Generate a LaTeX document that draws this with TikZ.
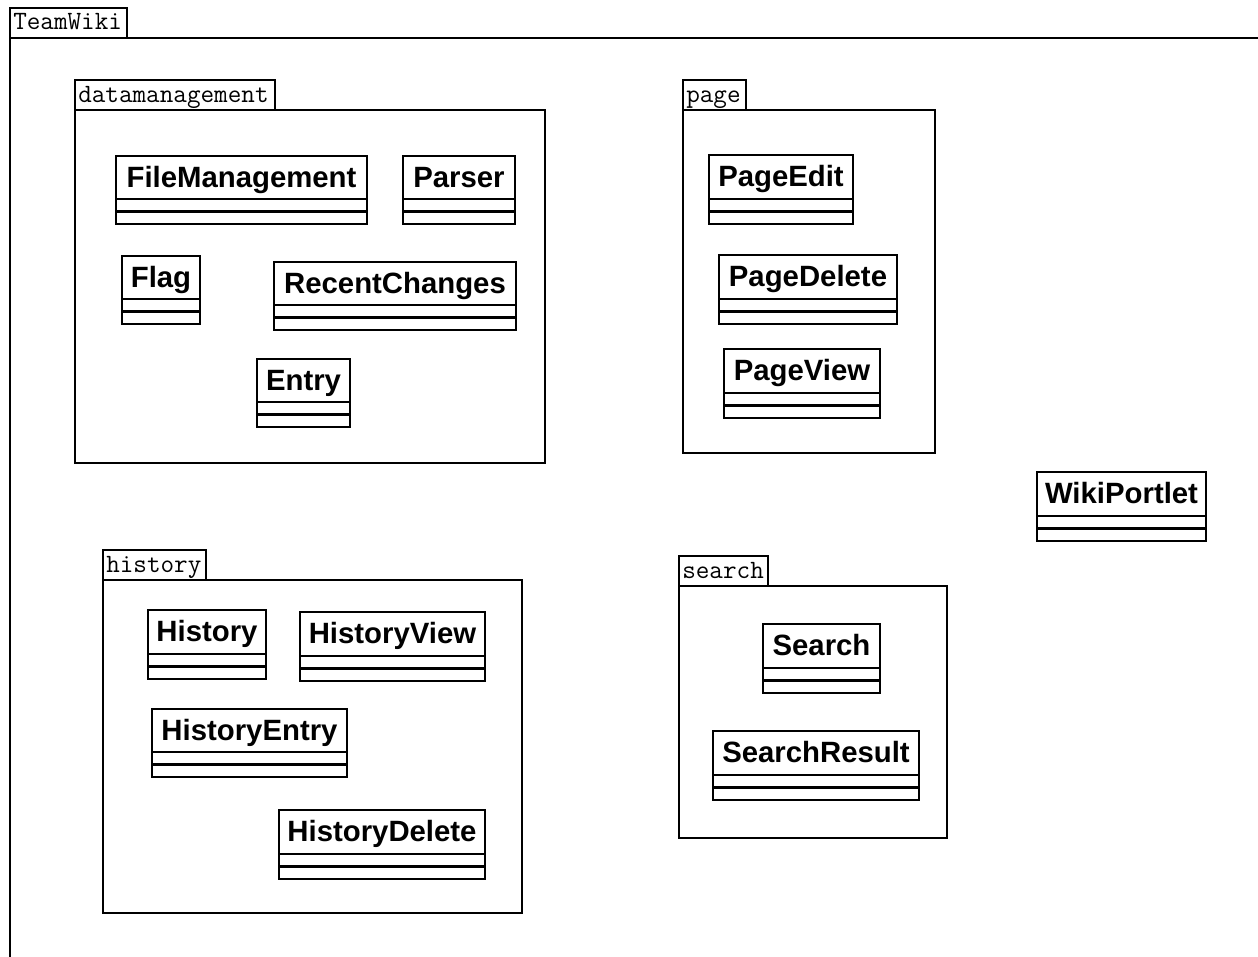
\documentclass[tikz,border=0pt]{standalone}
\usepackage{fontspec}
\setmainfont{Liberation Sans}
\tikzset{
  frameline/.style={draw=black, line width=2.2pt, line join=miter},
  clsline/.style={draw=black, line width=2.2pt},
  clsname/.style={font=\fontsize{22}{24}\selectfont\bfseries, anchor=base, inner sep=0pt},
  tabname/.style={font=\ttfamily\fontsize{19.8}{22}\selectfont, anchor=base west, inner sep=0pt},
}
% package: name, x1, ytab, tabx2, ybody, x2, y2, text
\newcommand\umlpkg[8]{%
  \draw[frameline] (#2,#5) rectangle (#4,#3);
  \draw[frameline] (#2,#5) rectangle (#6,#7);
  \node[tabname] (#1) at ({#2+3},{#3+22}) {#8};
}
% class: name, x1, y1, x2, y2, text
\newcommand\umlcls[6]{%
  \draw[clsline] (#2,#3) rectangle (#4,#5);
  \draw[clsline] (#2,{#5-25}) -- (#4,{#5-25});
  \draw[clsline] (#2,{#5-12.5}) -- (#4,{#5-12.5});
  \node[clsname] (#1) at ({(#2+#4)/2},{#3+31}) {#6};
}
\begin{document}
\begin{tikzpicture}[x=0.75pt, y=-0.75pt]
\useasboundingbox (0,0) rectangle (1258,957);
\begin{scope}
\clip (0,0) rectangle (1258,957);
% outer package TeamWiki
\draw[frameline] (10,38) rectangle (127,8);
\draw[frameline] (10,38) rectangle (1300,1000);
\node[tabname] (teamwiki) at (13,29) {TeamWiki};
\end{scope}

\umlpkg{datamanagement}{75}{80}{275}{110}{545}{463}{datamanagement}
\umlcls{filemanagement}{116}{156}{367}{224}{FileManagement}
\umlcls{parser}{403}{156}{515}{224}{Parser}
\umlcls{flag}{122}{256}{200}{324}{Flag}
\umlcls{recentchanges}{274}{262}{516}{330}{RecentChanges}
\umlcls{entry}{257}{359}{350}{427}{Entry}

\umlpkg{page}{683}{80}{746}{110}{935}{453}{page}
\umlcls{pageedit}{709}{155}{853}{224}{PageEdit}
\umlcls{pagedelete}{719}{255}{897}{324}{PageDelete}
\umlcls{pageview}{724}{349}{880}{418}{PageView}

\umlcls{wikiportlet}{1037}{472}{1206}{541}{WikiPortlet}

\umlpkg{history}{103}{550}{206}{580}{522}{913}{history}
\umlcls{historycls}{148}{610}{266}{679}{History}
\umlcls{historyview}{300}{612}{485}{681}{HistoryView}
\umlcls{historyentry}{152}{709}{347}{777}{HistoryEntry}
\umlcls{historydelete}{279}{810}{485}{879}{HistoryDelete}

\umlpkg{search}{679}{556}{768}{586}{947}{838}{search}
\umlcls{searchcls}{763}{624}{880}{693}{Search}
\umlcls{searchresult}{713}{731}{919}{800}{SearchResult}
\end{tikzpicture}
\end{document}
